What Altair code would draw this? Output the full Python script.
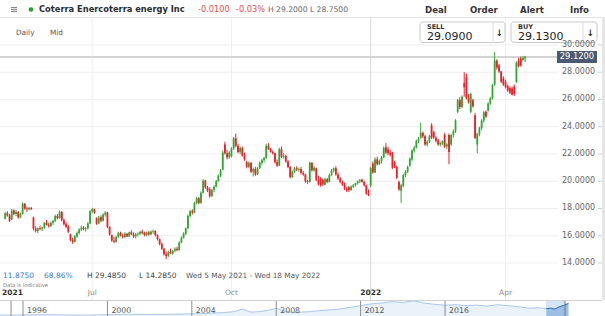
import altair as alt
import pandas as pd

FONT = "DejaVu Sans"
GREEN = "#34a534"
RED = "#e5222b"

# ---------------- data (open, high, low, close) per month ----------------
HOLIDAYS = ["2021-05-31", "2021-07-05", "2021-09-06", "2021-11-25",
            "2021-12-24", "2022-01-17", "2022-02-21"]

MAY_21 = [(17.25,17.75,17.20,17.65),(17.65,17.80,17.40,17.50),(17.50,17.60,17.00,17.10),
          (17.20,17.95,17.15,17.85),(17.85,17.95,17.50,17.60),(17.60,17.90,17.45,17.75),
          (17.75,17.80,17.25,17.35),(17.35,17.70,17.30,17.60),(17.60,18.45,17.55,18.35),
          (18.35,18.40,17.90,18.00),(18.00,18.15,17.75,17.95),(17.95,18.10,17.85,18.05),
          (18.05,18.10,17.90,17.95),(17.35,17.40,16.40,16.50),(16.50,16.70,16.25,16.35),
          (16.35,16.60,16.20,16.55),(16.55,16.75,16.40,16.50),(16.50,16.65,16.35,16.60)]
JUN_21 = [(16.60,17.00,16.50,16.95),(16.95,17.15,16.75,16.80),(16.80,16.95,16.60,16.70),
          (16.70,17.05,16.65,16.95),(16.95,17.15,16.80,17.10),(17.10,17.55,17.00,17.45),
          (17.45,17.60,17.20,17.30),(17.30,17.85,17.25,17.75),(17.75,17.80,17.05,17.15),
          (17.15,17.25,16.75,16.85),(16.85,17.00,16.55,16.65),(16.65,16.80,16.20,16.30),
          (16.10,16.15,15.60,15.70),(15.70,15.85,15.40,15.55),(15.55,16.05,15.50,15.95),
          (15.95,16.30,15.85,16.20),(16.20,16.55,16.10,16.45),(16.45,16.75,16.35,16.60),
          (16.60,16.70,16.40,16.50),(16.50,16.65,16.30,16.55),(16.55,17.00,16.45,16.90),
          (16.90,17.90,16.85,17.80)]
JUL_21 = [(17.80,18.05,17.65,17.95),(17.95,18.00,17.60,17.70),(17.30,17.35,16.80,16.90),
          (16.90,17.45,16.85,17.35),(17.35,17.50,17.00,17.10),(17.10,17.65,17.05,17.55),
          (17.55,17.80,17.40,17.70),(17.70,17.75,16.55,16.65),(16.65,16.70,16.00,16.10),
          (16.05,16.10,15.55,15.65),(15.65,15.90,15.45,15.55),(15.55,16.00,15.50,15.90),
          (15.90,16.30,15.85,16.20),(16.20,16.30,15.95,16.00),(16.00,16.15,15.80,15.90),
          (15.90,16.25,15.85,16.15),(16.15,16.20,15.90,15.95),(15.95,16.30,15.90,16.25),
          (16.25,16.40,16.05,16.10),(16.10,16.25,15.85,15.95),(15.95,16.20,15.80,16.10)]
AUG_21 = [(16.10,16.25,15.95,16.15),(16.15,16.35,16.05,16.30),(16.30,16.45,16.10,16.20),
          (16.20,16.30,15.95,16.05),(16.05,16.30,15.95,16.25),(16.25,16.35,16.00,16.10),
          (16.10,16.40,16.05,16.30),(16.30,16.45,16.15,16.35),(16.35,16.40,15.95,16.05),
          (16.05,16.10,15.65,15.75),(15.75,15.80,15.30,15.40),(15.40,15.50,14.95,15.05),
          (15.05,15.10,14.55,14.65),(14.65,14.85,14.285,14.50),(14.50,14.90,14.45,14.80),
          (14.80,15.05,14.65,14.70),(14.70,14.95,14.60,14.90),(14.90,15.15,14.80,15.05),
          (15.05,15.20,14.85,14.95),(14.95,15.60,14.90,15.50),(15.50,15.95,15.45,15.85),
          (15.85,16.25,15.80,16.15)]
SEP_21 = [(16.15,16.60,16.05,16.55),(16.55,17.55,16.50,17.45),(17.45,17.90,17.35,17.80),
          (17.80,17.95,17.55,17.70),(17.70,18.50,17.65,18.40),(18.40,18.85,18.30,18.75),
          (18.75,18.85,18.30,18.40),(18.40,19.25,18.35,19.15),(19.15,20.15,19.10,20.05),
          (20.05,20.10,19.45,19.55),(19.55,19.65,19.20,19.30),(19.40,19.55,18.80,18.90),
          (18.90,19.45,18.85,19.35),(19.35,19.70,19.20,19.60),(19.60,20.10,19.55,20.00),
          (20.00,20.50,19.95,20.40),(20.40,20.90,20.30,20.80),(20.85,22.25,20.80,22.10),
          (22.70,22.90,21.95,22.05),(22.05,22.30,21.60,21.75),(21.75,22.20,21.65,22.10)]
OCT_21 = [(21.85,22.50,21.75,22.40),(22.40,23.25,22.30,23.15),(23.15,23.50,22.50,22.60),
          (22.60,22.75,22.05,22.15),(22.15,22.55,22.00,22.45),(22.45,22.55,21.80,21.90),
          (21.90,22.10,21.50,21.60),(21.40,21.50,20.95,21.05),(21.05,21.45,20.95,21.35),
          (21.35,21.40,20.60,20.70),(20.70,21.00,20.35,20.90),(20.90,21.05,20.40,20.50),
          (20.50,21.05,20.45,20.95),(20.95,21.45,20.90,21.35),(21.35,21.65,21.20,21.55),
          (21.55,21.80,21.35,21.70),(21.70,22.75,21.65,22.60),(22.60,22.80,22.30,22.35),
          (22.35,22.45,22.10,22.15),(22.15,22.25,21.95,22.05),(22.05,22.10,21.30,21.40)]
NOV_21 = [(21.40,21.60,21.05,21.15),(21.15,22.45,21.10,22.35),(22.35,22.55,21.70,21.80),
          (21.80,22.05,21.65,21.85),(21.85,21.95,21.35,21.45),(21.45,21.55,20.95,21.05),
          (21.05,21.10,20.20,20.30),(20.30,20.80,20.25,20.70),(20.70,21.05,20.60,20.95),
          (20.95,21.10,20.75,20.85),(20.85,21.00,20.70,20.90),(20.90,21.05,20.50,20.60),
          (20.60,20.75,20.40,20.50),(20.50,20.55,19.90,20.00),(20.00,20.10,19.80,19.95),
          (19.95,21.45,19.90,21.35),(21.35,21.40,20.70,20.80),(20.80,21.10,20.70,21.00),
          (20.95,21.00,20.00,20.10),(20.10,20.40,19.70,19.80),(20.20,20.30,19.60,19.70)]
DEC_21 = [(20.10,20.20,19.65,19.75),(19.75,20.25,19.70,20.15),(20.15,20.25,19.85,19.95),
          (19.95,20.55,19.90,20.45),(20.45,20.90,20.40,20.80),(20.80,21.00,20.65,20.95),
          (20.95,21.10,20.40,20.50),(20.50,20.65,20.10,20.20),(20.20,20.30,19.85,19.95),
          (19.95,20.05,19.65,19.75),(19.75,19.90,19.35,19.45),(19.45,19.60,19.20,19.30),
          (19.55,19.65,19.20,19.35),(19.35,19.70,19.30,19.60),(19.60,19.80,19.50,19.70),
          (19.70,19.90,19.60,19.85),(19.85,20.05,19.75,20.00),(20.00,20.15,19.85,20.10),
          (20.10,20.20,19.90,19.95),(19.95,20.00,19.60,19.70),(19.70,19.75,19.00,19.10),
          (19.10,19.40,18.90,19.00)]
JAN_22 = [(19.70,21.05,19.55,20.95),(21.30,21.45,20.55,20.65),(20.65,21.75,20.60,21.60),
          (21.60,21.80,21.15,21.25),(21.25,21.60,21.20,21.50),(21.50,21.85,21.30,21.75),
          (21.75,22.55,21.70,22.45),(22.50,22.80,22.00,22.10),(22.35,22.50,21.90,22.05),
          (22.10,22.30,21.80,21.95),(22.05,22.15,20.90,21.00),(21.40,21.50,20.95,21.05),
          (21.05,21.15,20.15,20.25),(19.95,20.05,19.30,19.40),(19.30,19.80,18.40,19.70),
          (19.65,20.55,19.55,20.45),(20.45,20.80,20.30,20.70),(20.70,21.15,20.60,21.05),
          (21.15,21.75,21.05,21.65),(21.60,22.35,21.50,22.25)]
FEB_22 = [(22.25,22.60,22.10,22.45),(22.45,23.05,22.40,22.95),(22.95,23.25,22.80,23.10),
          (23.20,24.30,23.10,23.55),(23.55,23.65,23.15,23.30),(23.30,23.40,22.60,22.70),
          (22.70,23.00,22.55,22.90),(22.90,23.40,22.80,23.30),(24.10,24.25,23.10,23.20),
          (23.60,23.70,23.10,23.20),(23.20,23.30,22.85,22.95),(23.00,23.10,22.60,22.70),
          (22.70,22.90,22.55,22.80),(22.75,23.00,22.65,22.95),(23.40,23.55,22.45,22.55),
          (22.55,22.80,22.35,22.70),(23.40,23.50,21.25,22.15),(22.70,23.45,22.60,23.40),
          (23.40,23.80,23.20,23.65)]
MAR_22 = [(23.65,24.55,23.55,24.45),(25.10,26.05,25.00,25.95),(25.95,26.15,25.30,25.45),
          (25.45,26.30,25.35,26.20),(27.20,28.00,26.20,26.90),(27.65,27.90,26.00,26.10),
          (26.10,26.40,25.70,25.80),(25.10,26.50,25.00,26.40),(25.95,26.05,25.40,25.50),
          (24.85,25.00,23.10,23.20),(22.70,23.55,22.05,23.50),(23.50,24.00,23.30,23.90),
          (23.90,24.55,23.75,24.45),(24.45,25.15,24.30,25.05),(25.10,25.20,24.65,24.75),
          (25.20,25.80,25.10,25.70),(25.70,26.20,25.60,26.10),(26.10,27.15,26.00,27.05),
          (27.10,29.485,27.00,28.85),(28.85,28.95,28.20,28.35),(28.50,28.60,27.95,28.05),
          (28.05,28.10,27.20,27.30),(27.55,27.70,27.00,27.10)]
APR_22 = [(27.30,27.45,26.80,26.90),(27.00,27.10,26.55,26.65),(26.85,26.95,26.40,26.50),
          (26.80,26.95,26.30,26.35),(26.95,27.10,26.25,26.40),(27.30,28.80,27.20,28.70),
          (28.85,29.05,28.35,28.45),(29.00,29.15,28.40,28.50),(28.90,29.20,28.80,29.05),
          (29.00,29.20,28.75,29.12)]

YTICKS = [14, 16, 18, 20, 22, 24, 26, 28, 30]
XTICK_MONTHS = ["2021-07-01", "2021-10-01", "2022-01-01", "2022-04-01"]
XTICK_LABELS = ["Jul", "Oct", "2022", "Apr"]
LAST_PRICE = 29.12

# navigator (long history, price)
NAV_T = [1994.9, 1996.0, 1997.0, 1998.0, 1999.0, 2000.0, 2001.0, 2002.0, 2003.0, 2004.0,
         2004.8, 2005.5, 2006.0, 2006.4, 2006.8, 2007.2, 2007.6, 2008.0, 2008.4, 2008.8,
         2009.2, 2009.6, 2010.0, 2010.5, 2011.0, 2011.5, 2012.0, 2012.5, 2013.0, 2013.5,
         2014.0, 2014.5, 2015.0, 2015.5, 2016.0, 2016.5, 2017.0, 2017.5, 2018.0, 2018.5,
         2019.0, 2019.5, 2020.0, 2020.4, 2020.8, 2021.0, 2021.2, 2021.4, 2021.6, 2021.85]
NAV_V = [2, 2.5, 3, 2.5, 2, 3, 4, 3.5, 4, 5,
         6, 8, 10, 16, 9, 10, 13, 18, 11, 8,
         9, 10, 12, 14, 16, 20, 24, 28, 30, 33,
         31, 35, 30, 27, 25, 26, 24, 25, 23, 26,
         24, 21, 18, 19, 17, 18, 16, 21, 24, 29]
NAV_YEARS = [1996, 2000, 2004, 2008, 2012, 2016]
NAV_SEL_START = 2020.8

# ---------------- frame ----------------
rows = (MAY_21 + JUN_21 + JUL_21 + AUG_21 + SEP_21 + OCT_21 + NOV_21 + DEC_21
        + JAN_22 + FEB_22 + MAR_22 + APR_22)
dates = [d for d in pd.bdate_range("2021-05-05", "2022-04-14")
         if d.strftime("%Y-%m-%d") not in HOLIDAYS]
assert len(dates) == len(rows), (len(dates), len(rows))
df = pd.DataFrame(rows, columns=["open", "high", "low", "close"])
df["date"] = [d.strftime("%Y-%m-%d") for d in dates]
df["idx"] = list(range(len(df)))

tick_idx = [int(df.index[df["date"] >= m][0]) for m in XTICK_MONTHS]

XS = alt.Scale(domain=[-0.09, 273.42], nice=False, zero=False)
YS = alt.Scale(domain=[10.11, 33.30], nice=False, zero=False)

color_cond = alt.condition("datum.close >= datum.open", alt.value(GREEN), alt.value(RED))

base = alt.Chart(df)
wicks = base.mark_rule(strokeWidth=1).encode(
    x=alt.X("idx:Q", scale=XS, axis=None),
    y=alt.Y("low:Q", scale=YS, axis=None), y2="high:Q", color=color_cond)
bodies = base.mark_bar(width=1.8).encode(
    x=alt.X("idx:Q", scale=XS, axis=None),
    y=alt.Y("open:Q", scale=YS, axis=None), y2="close:Q", color=color_cond)

ydf = pd.DataFrame({"v": YTICKS})
hgrid = alt.Chart(ydf).mark_rule(color="#eeeeee", strokeWidth=1).encode(
    y=alt.Y("v:Q", scale=YS, axis=None), x=alt.value(0), x2=alt.value(558))
ydash = alt.Chart(ydf).mark_rule(color="#cccccc", strokeWidth=1).encode(
    y=alt.Y("v:Q", scale=YS, axis=None), x=alt.value(598), x2=alt.value(602))
ylab = alt.Chart(ydf).mark_text(align="left", baseline="middle", fontSize=8,
                                color="#666666", font=FONT).encode(
    y=alt.Y("v:Q", scale=YS, axis=None), x=alt.value(562),
    text=alt.Text("v:Q", format=".4f"))

vdf = pd.DataFrame({"i": tick_idx, "lab": XTICK_LABELS,
                    "yr": [l.isdigit() for l in XTICK_LABELS]})
vgrid = alt.Chart(vdf).mark_rule(strokeWidth=1).encode(
    x=alt.X("i:Q", scale=XS, axis=None), y=alt.value(18), y2=alt.value(300),
    color=alt.condition("datum.yr", alt.value("#d8d8d8"), alt.value("#efefef")))
xlab_m = alt.Chart(vdf).transform_filter("!datum.yr").mark_text(
    align="center", baseline="middle", fontSize=7.5, color="#8a8a8a", font=FONT).encode(
    x=alt.X("i:Q", scale=XS, axis=None), y=alt.value(293), text="lab:N")
xlab_y = alt.Chart(vdf).transform_filter("datum.yr").mark_text(
    align="center", baseline="middle", fontSize=7.5, color="#333333", font=FONT,
    fontWeight="bold").encode(
    x=alt.X("i:Q", scale=XS, axis=None), y=alt.value(293), text="lab:N")

pdf = pd.DataFrame({"p": [LAST_PRICE]})
priceline = alt.Chart(pdf).mark_rule(color="#d4d4d4", strokeWidth=2).encode(
    y=alt.Y("p:Q", scale=YS, axis=None), x=alt.value(0), x2=alt.value(557))
pricebox = alt.Chart(pdf).mark_rule(color="#4b5a70", strokeWidth=12).encode(
    y=alt.Y("p:Q", scale=YS, axis=None), x=alt.value(557), x2=alt.value(597))
pricetext = alt.Chart(pdf).mark_text(color="white", fontSize=8.3, font=FONT,
                                     align="center", baseline="middle").encode(
    y=alt.Y("p:Q", scale=YS, axis=None), x=alt.value(577),
    text=alt.Text("p:Q", format=".4f"))

main = alt.layer(hgrid, ydash, vgrid, priceline, wicks, bodies, xlab_m, xlab_y)
price_tag = alt.layer(pricebox, pricetext)

# ---------------- chrome helpers ----------------
ONE = alt.Data(values=[{"k": 0}])


def label(text, x, y, size=8, color="#555555", weight="normal", align="left"):
    return alt.Chart(ONE).mark_text(text=text, fontSize=size, color=color, fontWeight=weight,
                                    align=align, baseline="middle", font=FONT).encode(
        x=alt.value(x), y=alt.value(y))


def box(x, x2, y, y2, fill, stroke="#ffffff", radius=0, sw=0):
    return alt.Chart(ONE).mark_rect(fill=fill, stroke=stroke, strokeWidth=sw,
                                    cornerRadius=radius).encode(
        x=alt.value(x), x2=alt.value(x2), y=alt.value(y), y2=alt.value(y2))


def hline(x, x2, y, color, w=1):
    return alt.Chart(ONE).mark_rule(color=color, strokeWidth=w).encode(
        x=alt.value(x), x2=alt.value(x2), y=alt.value(y))


def vline(x, y, y2, color, w=1):
    return alt.Chart(ONE).mark_rule(color=color, strokeWidth=w).encode(
        x=alt.value(x), y=alt.value(y), y2=alt.value(y2))


# ---------------- navigator ----------------
navdf = pd.DataFrame({"t": NAV_T, "v": NAV_V})
NXS = alt.Scale(domain=[1994.91, 2023.58], nice=False, zero=False)
NYS = alt.Scale(domain=[0, 730], nice=False, zero=True)
nav_bg = box(546, 565, 301, 316, "#d6e5f5")
nav_area = alt.Chart(navdf).mark_area(color="#e1ecf8", line={"color": "#a9c8ea", "strokeWidth": 1}).encode(
    x=alt.X("t:Q", scale=NXS, axis=None), y=alt.Y("v:Q", scale=NYS, axis=None))
nav_sel = alt.Chart(navdf).transform_filter(f"datum.t >= {NAV_SEL_START}").mark_area(
    color="#7fabdc", line={"color": "#2f6fb8", "strokeWidth": 1}).encode(
    x=alt.X("t:Q", scale=NXS, axis=None), y=alt.Y("v:Q", scale=NYS, axis=None))
nydf = pd.DataFrame({"yr": NAV_YEARS, "lab": [str(y) for y in NAV_YEARS]})
nav_sep = alt.Chart(nydf).mark_rule(color="#8c8c8c", strokeWidth=1).encode(
    x=alt.X("yr:Q", scale=NXS, axis=None), y=alt.value(301), y2=alt.value(316))
nav_lab = alt.Chart(nydf).mark_text(align="left", baseline="middle", dx=4, fontSize=7.8,
                                    color="#555555", font=FONT).encode(
    x=alt.X("yr:Q", scale=NXS, axis=None), y=alt.value(311), text="lab:N")
nav = alt.layer(nav_bg, nav_area, nav_sel, nav_sep, nav_lab)

# ---------------- chrome ----------------
chrome = [
    hline(0, 605, 17.5, "#e3e3e3"),
    hline(11, 17, 7.5, "#8a8a8a", 1.2), hline(11, 17, 9.5, "#8a8a8a", 1.2), hline(11, 17, 11.5, "#8a8a8a", 1.2),
    alt.Chart(ONE).mark_circle(size=22, color="#2ca02c", opacity=1).encode(x=alt.value(31), y=alt.value(9.5)),
    label("Coterra Enercoterra energy Inc", 39, 9.5, 8.3, "#2b2b2b", "bold"),
    label("-0.0100", 198, 9.5, 8.2, "#d9534f"),
    label("-0.03%", 236, 9.5, 8.2, "#d9534f"),
    label("H 29.2000 L 28.7500", 268, 9.5, 7.6, "#666666"),
    label("Deal", 425, 9.5, 8.6, "#333333", "bold"),
    label("Order", 470, 9.5, 8.6, "#333333", "bold"),
    label("Alert", 520, 9.5, 8.6, "#333333", "bold"),
    label("Info", 570, 9.5, 8.6, "#333333", "bold"),
    label("Daily", 16, 33, 7.3, "#555555"),
    label("Mid", 50, 33, 7.3, "#555555"),
    box(420, 505, 22, 42.5, "#ffffff", "#c9c9c9", 3, 1),
    vline(493, 23, 41.5, "#dddddd"),
    label("SELL", 427, 27, 6.5, "#333333", "bold"),
    label("29.0900", 427, 36.5, 11, "#222222"),
    label("↓", 499.5, 32.5, 9, "#333333", "bold", "center"),
    box(511, 597, 22, 42.5, "#ffffff", "#c9c9c9", 3, 1),
    vline(583, 23, 41.5, "#dddddd"),
    label("BUY", 518, 27, 6.5, "#333333", "bold"),
    label("29.1300", 518, 36.5, 11, "#222222"),
    label("↓", 590.5, 32.5, 9, "#333333", "bold", "center"),
    box(602, 605, 18, 300, "#e6e6e6"),
    label("11.8750", 3, 276, 7.5, "#3d7cc9"),
    label("68.86%", 44, 276, 7.5, "#3d7cc9"),
    label("H 29.4850", 87, 276, 7.5, "#444444"),
    label("L 14.2850", 139, 276, 7.5, "#444444"),
    label("Wed 5 May 2021 - Wed 18 May 2022", 186, 276, 7.3, "#555555"),
    label("Data is indicative", 3, 285, 5.2, "#777777"),
    label("2021", 2, 293, 7.5, "#333333", "bold"),
    hline(0, 602, 300.5, "#cfcfcf"),
    vline(11, 301, 316, "#8c8c8c"),
    vline(565, 301, 316, "#777777"),
]

chart = alt.layer(main, nav, *chrome, ylab, price_tag).resolve_scale(
    x="independent", y="independent"
).properties(
    width=605, height=316, padding=0, background="white",
    autosize=alt.AutoSizeParams(type="none")
).configure_view(strokeWidth=0)

chart.save("out.html", embed_options={"renderer": "svg", "actions": False})
